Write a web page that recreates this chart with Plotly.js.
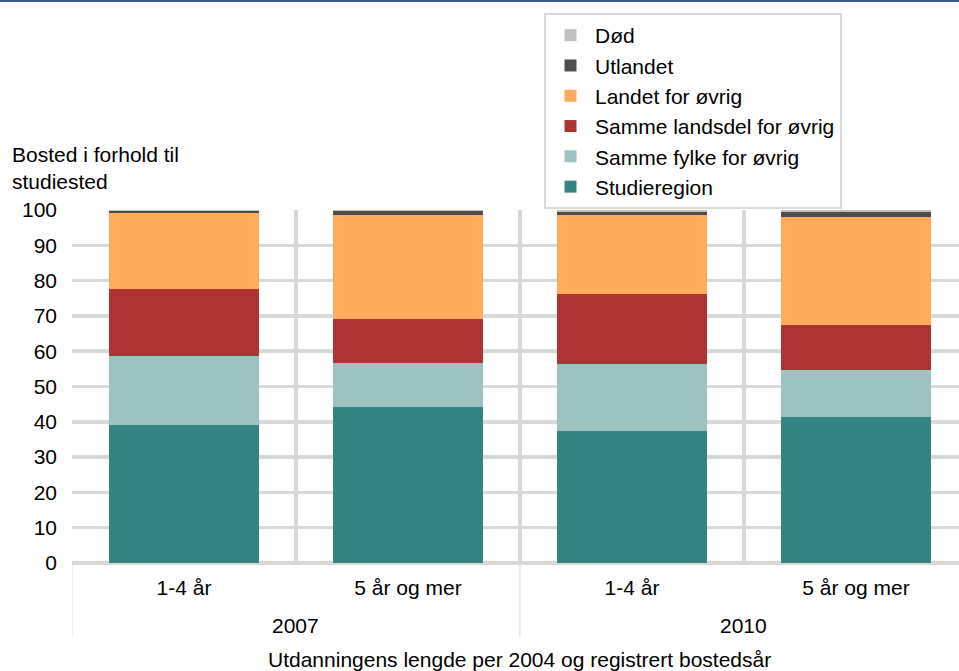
<!DOCTYPE html>
<html>
<head>
<meta charset="utf-8">
<script src="https://cdn.plot.ly/plotly-3.0.1.min.js"></script>
<style>html,body{margin:0;padding:0;background:#fff;}#chart{width:959px;height:671px;}</style>
</head>
<body>
<div id="chart"></div>
<script>
const categories = ["1-4 år", "5 år og mer", "1-4 år", "5 år og mer"];
const groups = ["2007", "2010"];
const seriesNames = ["Studieregion", "Samme fylke for øvrig", "Samme landsdel for øvrig", "Landet for øvrig", "Utlandet", "Død"];
const studieregion = [39.1, 44.1, 37.3, 41.3];
const sammeFylke = [19.5, 12.7, 19.2, 13.5];
const sammeLandsdel = [19.1, 12.2, 19.6, 12.5];
const landet = [21.5, 29.7, 22.6, 30.6];
const utlandet = [0.4, 1.1, 0.8, 1.6];
const dod = [0.4, 0.2, 0.5, 0.5];
const yTicks = [0, 10, 20, 30, 40, 50, 60, 70, 80, 90, 100];
const yTitle = "Bosted i forhold til<br>studiested";
const xTitle = "Utdanningens lengde per 2004 og registrert bostedsår";

const colors = ["#348484", "#9dc3c3", "#ae3333", "#ffad5c", "#4d4d4d", "#bfbfbf"];
const values = [studieregion, sammeFylke, sammeLandsdel, landet, utlandet, dod];
const xpos = categories.map((c, i) => i);

const FONT = "Liberation Sans, Arial, sans-serif";
const FS = 21;
const traces = values.map((v, k) => ({
  type: "bar",
  name: seriesNames[k],
  x: xpos,
  y: v,
  width: 0.67,
  marker: {color: colors[k], line: {width: 0}},
  legendrank: 100 - k,
  hoverinfo: "y+name"
}));

const boundaries = [-0.5, 0.5, 1.5, 2.5, 3.5];
const PH = 353, PW = 887;

const layout = {
  width: 959, height: 671,
  margin: {l: 72, r: 0, t: 210, b: 108},
  paper_bgcolor: "#fff", plot_bgcolor: "#fff",
  barmode: "stack",
  font: {family: FONT, size: FS, color: "#000"},
  showlegend: true,
  legend: {
    x: (544 - 72) / PW, xanchor: "left", y: 1 + (210 - 13) / PH, yanchor: "top",
    xref: "paper", yref: "paper",
    traceorder: "normal",
    bordercolor: "#d9d9d9", borderwidth: 2, bgcolor: "#fff",
    font: {family: FONT, size: FS, color: "#000"},
    itemwidth: 39,
    entrywidth: 270, entrywidthmode: "pixels"
  },
  xaxis: {
    range: [-0.5, 3.46],
    tickvals: xpos, ticktext: categories,
    showgrid: false, zeroline: false, showline: false,
    ticks: "", ticklabelstandoff: 10,
    tickfont: {family: FONT, size: FS, color: "#000"},
    minor: {tickvals: boundaries, showgrid: true, gridcolor: "#d9d9d9", gridwidth: 3.5, ticks: ""},
    fixedrange: true
  },
  yaxis: {
    range: [0, 100],
    tickvals: yTicks,
    showgrid: true, gridcolor: "#d9d9d9", gridwidth: 3.5,
    zeroline: true, zerolinecolor: "#d9d9d9", zerolinewidth: 3.5,
    ticks: "", ticklabelstandoff: 14,
    tickfont: {family: FONT, size: FS, color: "#000"},
    fixedrange: true
  },
  annotations: [
    {text: yTitle, xref: "paper", yref: "paper", x: -62 / PW, y: 1 + (210 - 141) / PH, xanchor: "left", yanchor: "top", align: "left", showarrow: false, font: {family: FONT, size: FS, color: "#000"}},
    {text: groups[0], xref: "x", yref: "paper", x: 0.5, y: -62 / PH, xanchor: "center", yanchor: "middle", showarrow: false, font: {family: FONT, size: FS, color: "#000"}},
    {text: groups[1], xref: "x", yref: "paper", x: 2.5, y: -62 / PH, xanchor: "center", yanchor: "middle", showarrow: false, font: {family: FONT, size: FS, color: "#000"}},
    {text: xTitle, xref: "paper", yref: "paper", x: (519 - 72) / PW, y: -96 / PH, xanchor: "center", yanchor: "middle", showarrow: false, font: {family: FONT, size: FS, color: "#000"}}
  ],
  shapes: [
    {type: "line", xref: "x", yref: "paper", x0: -0.5, x1: -0.5, y0: 0, y1: -74 / PH, line: {color: "#d9d9d9", width: 1}},
    {type: "line", xref: "x", yref: "paper", x0: 1.5, x1: 1.5, y0: 0, y1: -74 / PH, line: {color: "#d9d9d9", width: 1}},
    {type: "line", xref: "paper", yref: "paper", x0: -72 / PW, x1: 1, y0: 1 + 209 / PH, y1: 1 + 209 / PH, line: {color: "#3a5a8c", width: 2}}
  ]
};

Plotly.newPlot("chart", traces, layout, {displayModeBar: false, staticPlot: true});
</script>
</body>
</html>
